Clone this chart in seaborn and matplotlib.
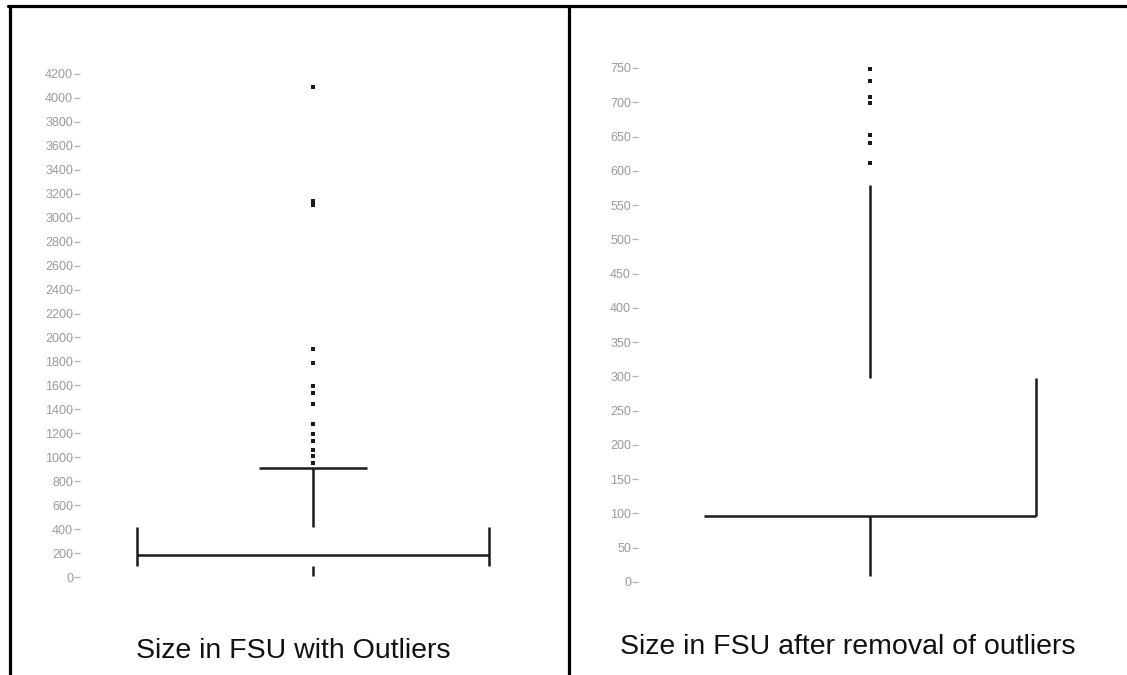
import matplotlib
matplotlib.use("Agg")
import matplotlib.pyplot as plt
from matplotlib.lines import Line2D
import seaborn as sns

sns.set_style("white")
plt.rcParams['font.family'] = ['Liberation Sans', 'DejaVu Sans']

# left panel: FSU sizes incl. outliers
left_ticks = list(range(0, 4201, 200))
left_outliers = [4090, 3140, 3110, 1900, 1785, 1595, 1535, 1445, 1275, 1190, 1135, 1060, 1010, 950]
left_q1, left_median, left_q3 = 92, 183, 420
left_lo, left_hi = 5, 908

# right panel: after outlier removal
right_ticks = list(range(0, 751, 50))
right_outliers = [749, 731, 708, 699, 652, 641, 612]
right_median, right_q3 = 97, 298
right_lo, right_hi = 9, 580

W, H = 1127, 675
fig = plt.figure(figsize=(W / 100, H / 100), dpi=100)

ink = '#1a1a1a'
lw = 1.8


def make_axes(x0, x1, y_bottom, y_top, ymax, ticks):
    ax = fig.add_axes([x0 / W, (H - y_bottom) / H, (x1 - x0) / W, (y_bottom - y_top) / H])
    ax.set_xlim(-1, 1)
    ax.set_ylim(0, ymax)
    for s in ax.spines.values():
        s.set_visible(False)
    ax.set_xticks([])
    ax.set_yticks(ticks)
    ax.set_yticklabels([str(t) for t in ticks])
    ax.tick_params(axis='y', left=True, length=4, width=0.9, color='#b0b0b0',
                   labelsize=9, labelcolor='#9a9a9a', pad=1)
    ax.set_facecolor('none')
    return ax


# left
ax1 = make_axes(80, 546, 577, 74, 4200, left_ticks)
hw, cap = 0.7575, 0.23
ax1.hlines(left_median, -hw, hw, color=ink, lw=lw)
ax1.vlines([-hw, hw], left_q1, left_q3, color=ink, lw=lw)
ax1.vlines(0, left_q3, left_hi, color=ink, lw=lw)
ax1.hlines(left_hi, -cap, cap, color=ink, lw=lw)
ax1.vlines(0, left_lo, left_q1, color=ink, lw=lw)
sns.scatterplot(x=[0] * len(left_outliers), y=left_outliers, marker='s', s=12,
                color=ink, linewidth=0, ax=ax1, clip_on=False)

# right
ax2 = make_axes(638, 1102, 582, 68, 750, right_ticks)
hw2 = 0.715
ax2.hlines(right_median, -hw2, hw2, color=ink, lw=lw)
ax2.vlines(hw2, right_median, right_q3, color=ink, lw=lw)
ax2.vlines(0, right_q3, right_hi, color=ink, lw=lw)
ax2.vlines(0, right_lo, right_median, color=ink, lw=lw)
sns.scatterplot(x=[0] * len(right_outliers), y=right_outliers, marker='s', s=12,
                color=ink, linewidth=0, ax=ax2, clip_on=False)

# captions
fig.text(293 / W, 1 - 651 / H, "Size in FSU with Outliers", ha='center', va='center',
         fontsize=20.5, color='#111111')
fig.text(848 / W, 1 - 647 / H, "Size in FSU after removal of outliers", ha='center',
         va='center', fontsize=20.5, color='#111111')

# table borders
blw = 2.3
fig.add_artist(Line2D([8 / W, 1], [1 - 5.5 / H, 1 - 5.5 / H], color='black', lw=blw))
fig.add_artist(Line2D([9.5 / W, 9.5 / W], [0, 1 - 5.5 / H], color='black', lw=blw))
fig.add_artist(Line2D([569 / W, 569 / W], [0, 1 - 5.5 / H], color='black', lw=blw))

fig.savefig("out.png", dpi=100, facecolor='white')
